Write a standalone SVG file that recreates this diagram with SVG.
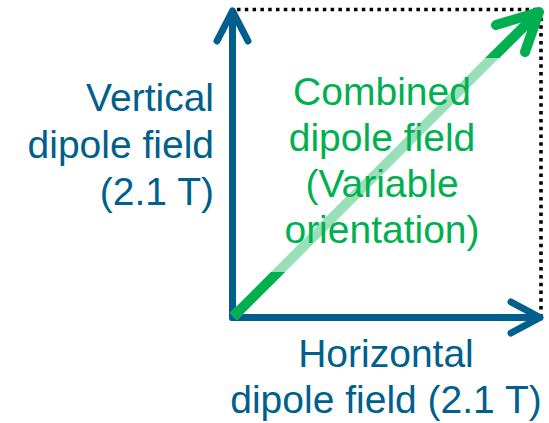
<svg xmlns="http://www.w3.org/2000/svg" width="549" height="423" viewBox="0 0 549 423">
<style>
.ax{stroke:#005F8C;stroke-width:7;fill:none;stroke-linecap:round;stroke-linejoin:round}
.gr{stroke:#00B050;stroke-width:10;fill:none;stroke-linejoin:round}
.lg{stroke:#99DFB9;stroke-width:10;fill:none}
.dot{stroke:#000;stroke-width:3.6;stroke-dasharray:3.5 4.3;fill:none}
text{font-family:"Liberation Sans",Arial,sans-serif;font-size:39px}
.bt{fill:#005F8C}
.gt{fill:#00B050}
</style>
<defs>
<clipPath id="cb"><rect x="0" y="272" width="549" height="151"/></clipPath>
<clipPath id="ct"><rect x="0" y="0" width="549" height="58"/></clipPath>
</defs>
<rect width="549" height="423" fill="#fff"/>
<g id="connectors">
<path class="dot" d="M237 9.5 H541 V318"/>
<path class="ax" d="M232.5 317.5 V11 M217 41 L232.5 11 L248 41"/>
<path class="ax" d="M232.5 317.5 H540 M511 302 L540 317.5 L511 333"/>
<path class="lg" d="M233.5 316.5 L530 20"/>
<path class="gr" clip-path="url(#cb)" d="M233.5 316.5 L300 250"/>
<path class="gr" clip-path="url(#ct)" d="M470 80 L539 12"/>
<path class="gr" stroke-linecap="round" d="M496 25 L539 12 L525 52"/>
</g>
<g id="vertical-label">
<text class="bt" x="214" y="111" text-anchor="end">Vertical</text>
<text class="bt" x="214" y="158" text-anchor="end">dipole field</text>
<text class="bt" x="214" y="205" text-anchor="end">(2.1 T)</text>
</g>
<g id="combined-label">
<text class="gt" x="382" y="105" text-anchor="middle">Combined</text>
<text class="gt" x="382" y="151" text-anchor="middle">dipole field</text>
<text class="gt" x="382" y="197" text-anchor="middle">(Variable</text>
<text class="gt" x="382" y="243" text-anchor="middle">orientation)</text>
</g>
<g id="horizontal-label">
<text class="bt" x="386" y="367" text-anchor="middle">Horizontal</text>
<text class="bt" x="386" y="413" text-anchor="middle">dipole field (2.1 T)</text>
</g>
</svg>
